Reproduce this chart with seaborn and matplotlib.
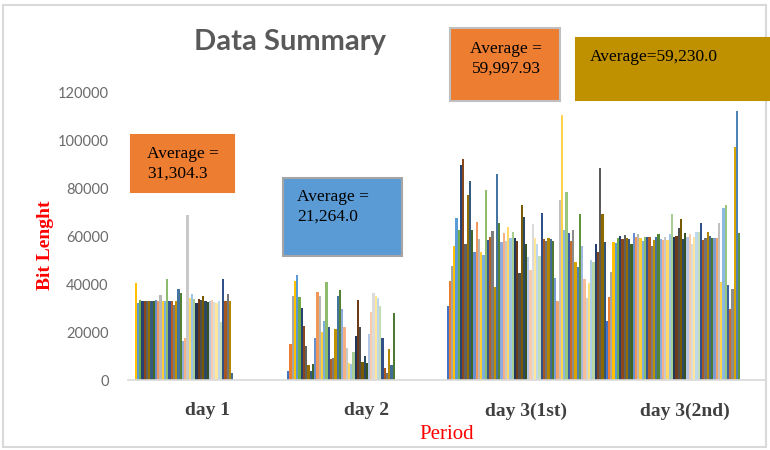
import matplotlib
matplotlib.use('Agg')
import matplotlib.pyplot as plt
import seaborn as sns
import pandas as pd
from matplotlib.patches import Rectangle
from matplotlib.colors import to_rgb, to_hex

# ---------------- data ----------------
periods = ['day 1', 'day 2', 'day 3(1st)', 'day 3(2nd)']

day1 = [0, 0, 0, 40300, 31900, 33300, 33000, 33000, 33000, 33000,
        33000, 33000, 33500, 33000, 35400, 33000, 33000, 42100, 33000, 33000,
        31250, 33000, 37900, 36400, 16250, 17600, 68700, 34000, 35700, 33800,
        32200, 33800, 33300, 35100, 33000, 32500, 33000, 33300, 32500, 32200,
        33000, 24000, 42100, 33000, 35700, 33000, 2800, 0, 0, 0,
        0, 0, 0, 0, 0, 0, 0, 0, 0, 0,
        0, 0, 0, 0, 0, 0, 0, 0, 0, 0, 0]

day2 = [3750, 14900, 35100, 41400, 43700, 34700, 29900, 22500, 14200, 6250,
        3750, 6700, 17600, 36800, 35100, 19900, 24600, 41000, 22200, 8600,
        9300, 21200, 35000, 37500, 29600, 22200, 13200, 7200, 6500, 11500,
        18300, 33300, 22200, 7600, 10000, 6900, 19200, 28500, 36100, 35000,
        34000, 31000, 17600, 5100, 3000, 12800, 6250, 28000, 0, 0,
        0, 0, 0, 0, 0, 0, 0, 0, 0, 0,
        0, 0, 0, 0, 0, 0, 0, 0, 0, 0, 0]

day3_1st = [31000, 41250, 47500, 56000, 67400, 62500, 89600, 92000, 56700, 77000,
            83000, 62500, 53500, 66000, 58700, 53500, 52000, 79000, 58300, 59700,
            62200, 38900, 86000, 65300, 57600, 61100, 58100, 63600, 59000, 61500,
            59000, 58000, 44700, 72900, 67800, 56700, 51400, 45800, 64900, 59000,
            56700, 51800, 69400, 58600, 58000, 59000, 58600, 58000, 42400, 33000,
            75000, 110400, 62500, 78500, 61100, 58000, 62500, 49000, 47200, 69000,
            55800, 42100, 34000, 40300, 50000, 49000, 56700, 53500, 88200, 69000,
            57600]

day3_2nd = [24700, 34700, 45100, 57600, 56900, 59000, 60000, 58600, 60400, 59300,
            58600, 56700, 61100, 59700, 60800, 59300, 57900, 59400, 59400, 59400,
            56000, 58300, 59700, 60800, 58600, 58300, 59700, 58300, 60800, 69200,
            59700, 60000, 63200, 67000, 58600, 61100, 59700, 60800, 56500, 59700,
            61800, 61800, 65300, 58300, 59000, 61700, 60000, 59000, 59000, 59000,
            65600, 41000, 71800, 72900, 39600, 29400, 37900, 97200, 112200, 61100,
            0, 0, 0, 0, 0, 0, 0, 0, 0, 0, 0]

y_ticks = [0, 20000, 40000, 60000, 80000, 100000, 120000]
y_tick_labels = ['0', '20000', '40000', '60000', '80000', '100000', '120000']

avg_labels = ['Average =\n31,304.3', 'Average =\n21,264.0',
              'Average =\n59,997.93', 'Average=59,230.0']

# ---------------- palette (Excel-like accent cycle) ----------------
base = ['#4472C4', '#ED7D31', '#A5A5A5', '#FFC000', '#5B9BD5', '#70AD47']
rounds = [('b', 0), ('s', 0.58), ('t', 0.2), ('s', 0.75), ('t', 0.4), ('s', 0.47),
          ('t', 0.6), ('s', 0.7), ('t', 0.3), ('s', 0.85), ('t', 0.5), ('s', 0.55)]
n_series = len(day1)
palette = []
for i in range(n_series):
    kind, f = rounds[(i // 6) % len(rounds)]
    r, g, b = to_rgb(base[i % 6])
    if kind == 's':
        c = (r * f, g * f, b * f)
    elif kind == 't':
        c = (r + (1 - r) * f, g + (1 - g) * f, b + (1 - b) * f)
    else:
        c = (r, g, b)
    palette.append(to_hex(c))

rows = []
for p, vals in zip(periods, [day1, day2, day3_1st, day3_2nd]):
    for i, v in enumerate(vals):
        rows.append((p, f's{i + 1:02d}', v))
df = pd.DataFrame(rows, columns=['period', 'series', 'value'])

# ---------------- figure ----------------
sns.set_theme(style='white')
W, H = 770, 450
fig = plt.figure(figsize=(W / 100, H / 100), dpi=100)
fig.patch.set_facecolor('white')

ax = fig.add_axes([128 / W, 70 / H, 637 / W, 288 / H])
sns.barplot(data=df, x='period', y='value', hue='series', palette=palette,
            width=1.0, gap=0, errorbar=None, legend=False, linewidth=0,
            saturation=1, ax=ax)

ax.set_xlim(-0.5, 3.5)
ax.set_ylim(0, 120000)
for s in ['top', 'right', 'left']:
    ax.spines[s].set_visible(False)
ax.spines['bottom'].set_color('#D9D9D9')
ax.spines['bottom'].set_linewidth(1.2)

ax.set_yticks(y_ticks)
ax.set_yticklabels(y_tick_labels, family='Lato', fontsize=10.5, color='#6B6B6B')
ax.tick_params(axis='y', length=0, pad=14)

ax.set_xticks(range(len(periods)))
ax.set_xticklabels(periods, family='Liberation Serif', fontweight='bold',
                   fontsize=14, color='#404040')
ax.tick_params(axis='x', length=0, pad=16)
ax.set_xticks([-0.5, 0.5, 1.5, 2.5, 3.5], minor=True)
ax.tick_params(axis='x', which='minor', length=6, color='#D9D9D9', width=1.2,
               direction='out')

ax.set_xlabel('Period', family='Liberation Serif', fontsize=15, color='red',
              labelpad=4)
ax.set_ylabel('Bit Lenght', family='Liberation Serif', fontsize=14,
              fontweight='bold', color='red')
ax.yaxis.set_label_coords((54 - 128) / 637, (380 - 245) / 288)
ax.grid(False)


def px(x, y):
    return x / W, 1 - y / H


def box(x0, y0, x1, y1, fc, ec=None, lw=1.5):
    fig.add_artist(Rectangle(px(x0, y1), (x1 - x0) / W, (y1 - y0) / H,
                             transform=fig.transFigure, facecolor=fc,
                             edgecolor=ec if ec else fc, lw=lw, zorder=5))


# chart border
fig.add_artist(Rectangle(px(3, 447), 763 / W, 442 / H, transform=fig.transFigure,
                         fill=False, edgecolor='#D9D9D9', lw=1.5))

fig.text(*px(290, 42), 'Data Summary', ha='center', va='center', fontsize=21,
         fontweight='bold', color='#595959', family='Lato')

tkw = dict(family='Liberation Serif', fontsize=12.5, color='black',
           linespacing=1.35, zorder=6)
box(131, 135, 234, 192, '#ED7D31')
fig.text(*px(147, 164), avg_labels[0], ha='left', va='center', **tkw)

box(283, 178, 402, 256, '#5B9BD5', '#A5A5A5')
fig.text(*px(297, 207), avg_labels[1], ha='left', va='center', **tkw)

box(450, 28, 560, 101, '#ED7D31', '#BFBFBF')
fig.text(*px(506, 59), avg_labels[2], ha='center', va='center',
         multialignment='center', **tkw)

box(576, 38, 772, 100, '#BF9000')
fig.text(*px(590, 57), avg_labels[3], ha='left', va='center', **tkw)

fig.savefig('out.png', dpi=100, facecolor='white')
